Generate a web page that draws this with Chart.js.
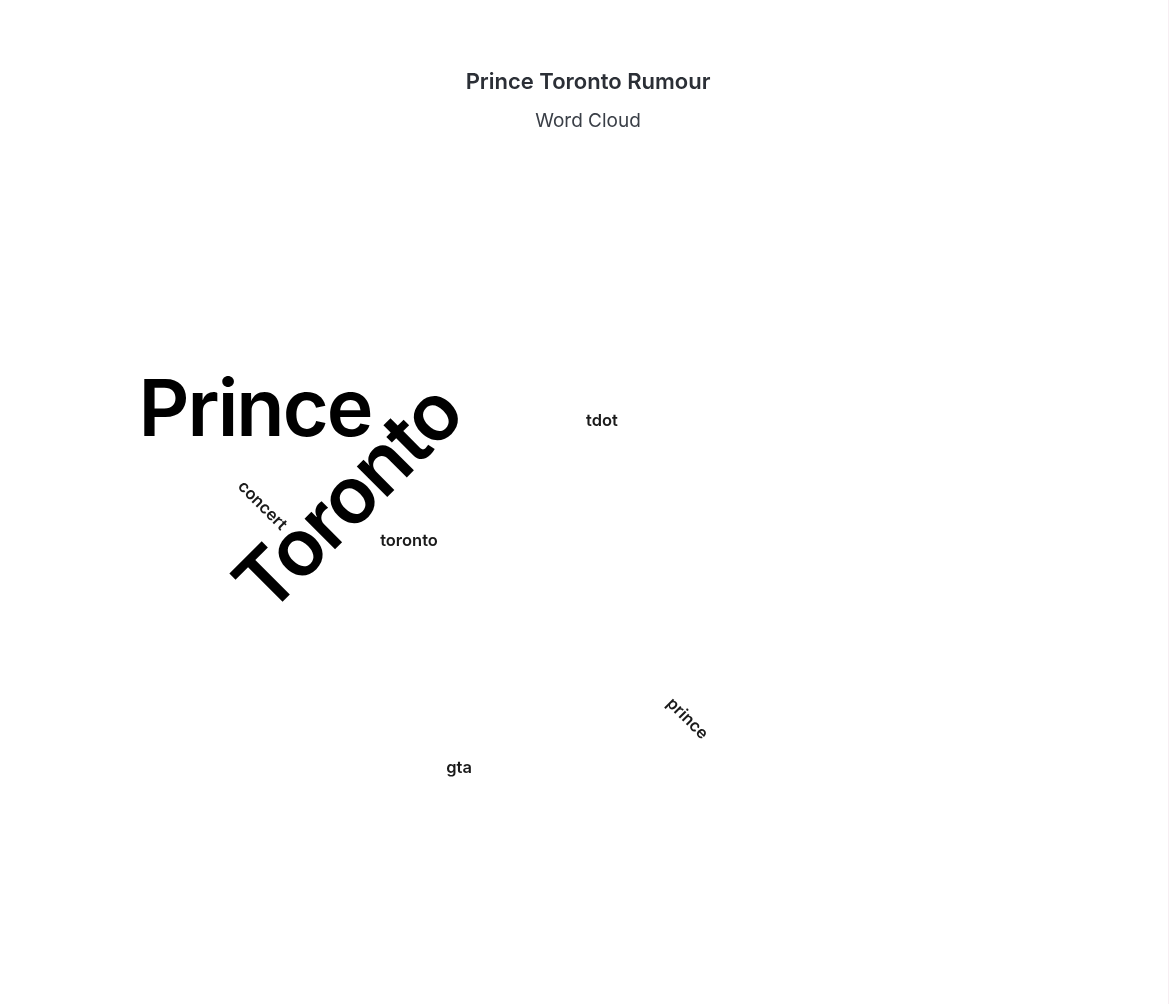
<!DOCTYPE html>
<html>
<head>
<meta charset="utf-8">
<script src="https://cdn.jsdelivr.net/npm/chart.js@4"></script>
<style>
  html, body { margin: 0; padding: 0; background: #ffffff; }
  #wrap { position: relative; width: 1170px; height: 1004px; }
  #edge { position: absolute; top: 0; right: 1px; width: 1px; height: 1004px; background: #f6eef2; }
</style>
</head>
<body>
<div id="wrap">
  <canvas id="c" width="1170" height="1004"></canvas>
  <div id="edge"></div>
</div>
<script>
// ---- data ----
const words = ['Prince', 'Toronto', 'concert', 'toronto', 'tdot', 'gta', 'prince'];
const weights = [79, 79, 16.5, 16.5, 16.5, 16.5, 16.5];   // word weight (rendered as font size, like the wordcloud controller)

// ---- word-cloud layout (placement produced by the cloud layout) ----
const layoutX = [255, 347, 263, 409, 602, 459, 688];
const layoutY = [408, 497, 505, 540, 420, 767, 718];
const layoutAngle = [0, -45, 45, 0, 0, 0, 45];

const titleText = 'Prince Toronto Rumour';
const subtitleText = 'Word Cloud';

const FONT = 'Inter, "Noto Sans", sans-serif';

const points = words.map((w, i) => ({ x: layoutX[i], y: layoutY[i], word: w, weight: weights[i], angle: layoutAngle[i] }));

const wordPlugin = {
  id: 'wordText',
  afterDatasetsDraw(chart) {
    const ctx = chart.ctx;
    const meta = chart.getDatasetMeta(0);
    meta.data.forEach((el, i) => {
      const p = chart.data.datasets[0].data[i];
      const size = p.weight;
      ctx.save();
      ctx.translate(el.x, el.y);
      ctx.rotate(p.angle * Math.PI / 180);
      ctx.font = '600 ' + size + 'px ' + FONT;
      if ('letterSpacing' in ctx) ctx.letterSpacing = (size > 40 ? -2 : 0) + 'px';
      ctx.fillStyle = size > 40 ? '#000000' : '#1a1a1a';
      ctx.textAlign = 'center';
      ctx.textBaseline = 'alphabetic';
      ctx.fillText(p.word, 0, size * 0.36);
      ctx.restore();
    });
  }
};

new Chart(document.getElementById('c'), {
  type: 'scatter',
  data: {
    datasets: [{
      data: points,
      pointRadius: 0,
      pointHoverRadius: 0,
      backgroundColor: 'rgba(0,0,0,0)'
    }]
  },
  options: {
    responsive: false,
    animation: false,
    events: [],
    layout: { padding: { left: 6, right: 0, top: 0, bottom: 0 } },
    scales: {
      x: { type: 'linear', display: false, min: 6, max: 1170 },
      y: { type: 'linear', display: false, min: 140, max: 1004, reverse: true }
    },
    plugins: {
      legend: { display: false },
      tooltip: { enabled: false },
      title: {
        display: true,
        text: titleText,
        color: '#2b2f36',
        font: { family: FONT, size: 22, weight: '600', lineHeight: 1.2 },
        padding: { top: 69, bottom: 10 }
      },
      subtitle: {
        display: true,
        text: subtitleText,
        color: '#3a3f47',
        font: { family: FONT, size: 19, weight: '400', lineHeight: 1.2 },
        padding: { top: 4.2, bottom: 7.6 }
      }
    }
  },
  plugins: [wordPlugin]
});
</script>
</body>
</html>
